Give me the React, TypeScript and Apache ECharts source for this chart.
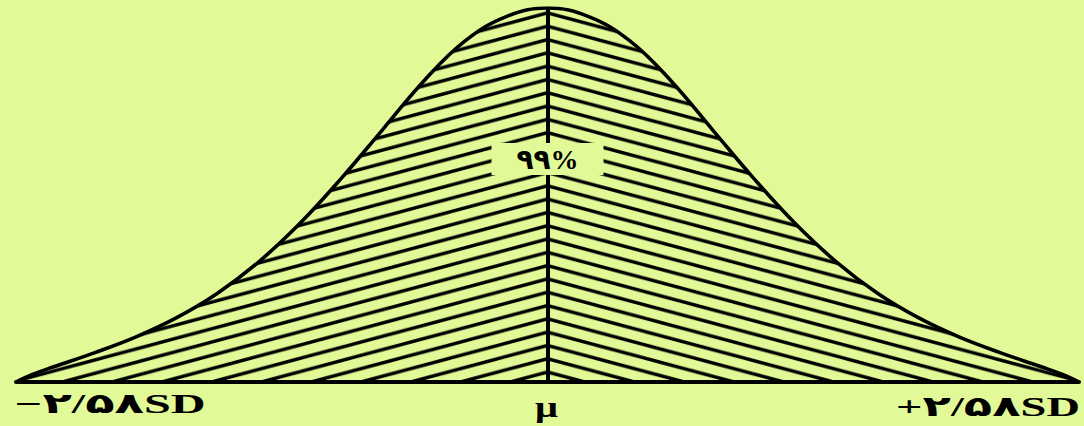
import React, { useEffect, useRef } from "react";
import * as echarts from "echarts";

// Half of the symmetric curve: distance from the mean (SD units) and height relative to the peak
const sdSteps = [0, 0.2, 0.4, 0.6, 0.8, 1.0, 1.2, 1.4, 1.6, 1.8, 2.0, 2.2, 2.4, 2.5, 2.58];
const relHeight = [1.0, 0.977, 0.912, 0.805, 0.675, 0.545, 0.425, 0.322, 0.238, 0.172, 0.12, 0.078, 0.04, 0.02, 0];

const tickValues = [-2.58, 0, 2.58];
const tickLabels = ["−۲/۵۸SD", "μ", "+۲/۵۸SD"];
const centerLabel = "۹۹%";
const centerLabelLevel = 0.596;

const BG = "#e1fa97";
const INK = "#000000";

function hatchPattern(dir: number, W: number, H: number, dy: number, lw: number) {
  let d = "";
  for (let k = -3; k <= 4; k++) {
    const y0 = dy + H * k;
    const xa = -W, xb = 2 * W;
    const ya = y0 - dir * H;
    const yb = y0 + dir * 2 * H;
    d += `M${xa} ${ya}L${xb} ${yb}`;
  }
  const svg = `<svg xmlns="http://www.w3.org/2000/svg" width="${W}" height="${H}" viewBox="0 0 ${W} ${H}"><path d="${d}" stroke="#000" stroke-width="${lw}" fill="none"/></svg>`;
  return {
    image: "data:image/svg+xml;charset=utf-8," + encodeURIComponent(svg),
    repeat: "repeat",
    imageWidth: W,
    imageHeight: H,
  } as any;
}

export default function App() {
  const ref = useRef<HTMLDivElement>(null);
  useEffect(() => {
    document.body.style.margin = "0";
    const el = ref.current!;
    const chart = echarts.init(el, null, { renderer: "svg" });

    const leftData: number[][] = [];
    for (let i = sdSteps.length - 1; i >= 0; i--) leftData.push([-sdSteps[i], relHeight[i]]);
    const rightData: number[][] = sdSteps.map((s, i) => [s, relHeight[i]]);
    const fullData = leftData.concat(rightData.slice(1));

    const gridLeft = 16;
    const gridRight = 5;
    const width = 1084;
    const cx = gridLeft + (width - gridLeft - gridRight) / 2;
    const W = (2 * cx) / 22;
    const H = 13.3;
    const yc = 372;
    const dy = yc - H * Math.floor(yc / H);

    chart.setOption({
      animation: false,
      backgroundColor: BG,
      grid: { left: gridLeft, right: gridRight, top: 8, bottom: 44 },
      xAxis: {
        type: "value",
        min: -2.58,
        max: 2.58,
        axisLine: { show: true, onZero: true, lineStyle: { color: INK, width: 4 } },
        axisTick: { show: false },
        axisLabel: { show: false },
        splitLine: { show: false },
      },
      yAxis: { type: "value", min: 0, max: 1, show: false },
      series: [
        {
          type: "line",
          data: leftData,
          smooth: 0.4,
          symbol: "none",
          lineStyle: { width: 0 },
          areaStyle: { color: hatchPattern(-1, W, H, dy, 3.4), opacity: 1 },
          z: 2,
        },
        {
          type: "line",
          data: rightData,
          smooth: 0.4,
          symbol: "none",
          lineStyle: { width: 0 },
          areaStyle: { color: hatchPattern(1, W, H, dy, 3.4), opacity: 1 },
          z: 2,
        },
        {
          type: "line",
          data: fullData,
          smooth: 0.4,
          symbol: "none",
          lineStyle: { color: INK, width: 3.6 },
          z: 3,
        },
        {
          type: "line",
          data: [],
          symbol: "none",
          z: 4,
          markLine: {
            silent: true,
            symbol: "none",
            label: { show: false },
            lineStyle: { color: INK, width: 4, type: "solid" },
            data: [[{ coord: [0, 0] }, { coord: [0, 1] }]],
          },
          markPoint: {
            silent: true,
            symbol: "rect",
            symbolSize: [112, 32],
            itemStyle: { color: BG },
            label: {
              show: true,
              position: "inside",
              formatter: centerLabel,
              color: INK,
              fontSize: 28,
              fontWeight: "bold",
              fontFamily: '"Liberation Serif", "DejaVu Sans", serif',
            },
            data: [{ coord: [0, centerLabelLevel] }],
          },
        },
      ],
    });

    const px = tickValues.map((v) => chart.convertToPixel({ xAxisIndex: 0 }, v) as number);
    const font = { fontSize: 28, fontWeight: "bold", fontFamily: '"Liberation Serif", "DejaVu Sans", serif', fill: INK };
    chart.setOption({
      graphic: [
        {
          type: "text",
          x: px[0] - 1,
          y: 404,
          scaleX: 1.72,
          style: { ...font, text: tickLabels[0], textAlign: "left", align: "left", textVerticalAlign: "middle", verticalAlign: "middle" },
        },
        {
          type: "text",
          x: px[1] - 1,
          y: 407,
          scaleX: 1.35,
          style: { ...font, fontSize: 30, text: tickLabels[1], textAlign: "center", align: "center", textVerticalAlign: "middle", verticalAlign: "middle" },
        },
        {
          type: "text",
          x: px[2] + 1,
          y: 407,
          scaleX: 1.66,
          style: { ...font, text: tickLabels[2], textAlign: "right", align: "right", textVerticalAlign: "middle", verticalAlign: "middle" },
        },
      ],
    });

    return () => chart.dispose();
  }, []);
  return <div ref={ref} style={{ width: 1084, height: 426 }} />;
}
